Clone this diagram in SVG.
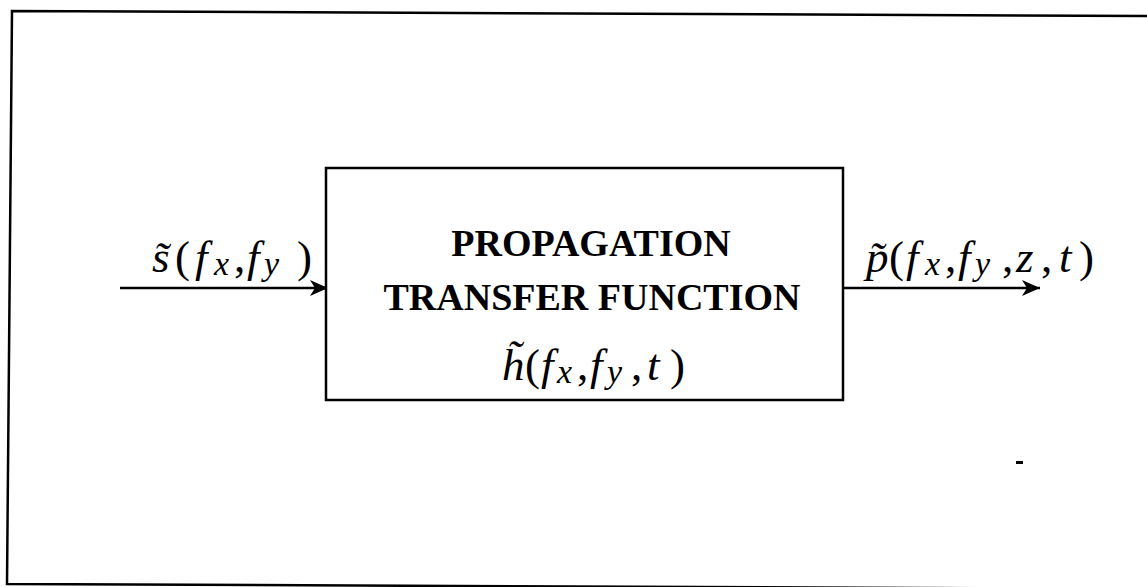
<svg xmlns="http://www.w3.org/2000/svg" width="1147" height="587" viewBox="0 0 1147 587">
<style>
.frame{fill:none;stroke:#000;stroke-width:2.5}
.box{fill:#fff;stroke:#000;stroke-width:2.5}
.conn{fill:none;stroke:#000;stroke-width:2.5}
.title{font-family:"Liberation Serif","Times New Roman",serif;font-weight:bold;font-size:38px;fill:#000}
.math{font-family:"Liberation Serif","Times New Roman",serif;font-size:45px;fill:#000}
.it{font-style:italic}
.sub{font-style:italic;font-size:34px}
</style>
<defs>
<marker id="arr" viewBox="0 0 20 18" refX="19" refY="9" markerWidth="20" markerHeight="18" markerUnits="userSpaceOnUse" orient="auto">
<path d="M1,1 L19,9 L1,17 L6,9 Z" fill="#000"/>
</marker>
</defs>
<rect width="1147" height="587" fill="#fff"/>
<path class="frame" d="M1147,16 L12,11 L7,584 L1147,589"/>
<g id="connectors">
<line class="conn" x1="120" y1="288" x2="328" y2="288" marker-end="url(#arr)"/>
<line class="conn" x1="843" y1="288" x2="1040" y2="288" marker-end="url(#arr)"/>
</g>
<g id="node-transfer">
<rect class="box" x="326" y="168" width="517" height="232"/>
<text class="title" x="591" y="256" text-anchor="middle">PROPAGATION</text>
<text class="title" x="592" y="310" text-anchor="middle">TRANSFER FUNCTION</text>
<text class="math"><tspan class="it" x="502" y="380">h&#x303;</tspan><tspan x="525" y="380">(</tspan><tspan class="it" x="541" y="380">f</tspan><tspan class="sub" x="557" y="383">x</tspan><tspan x="577" y="380">,</tspan><tspan class="it" x="590" y="380">f</tspan><tspan class="sub" x="607" y="383">y</tspan><tspan x="631" y="380">,</tspan><tspan class="it" x="647" y="380">t</tspan><tspan x="670" y="380">)</tspan></text>
</g>
<g id="label-input">
<text class="math"><tspan class="it" x="152" y="272">s&#x303;</tspan><tspan x="175" y="272">(</tspan><tspan class="it" x="195" y="272">f</tspan><tspan class="sub" x="214" y="275">x</tspan><tspan x="234" y="272">,</tspan><tspan class="it" x="247" y="272">f</tspan><tspan class="sub" x="264" y="275">y</tspan><tspan x="297" y="272">)</tspan></text>
</g>
<g id="label-output">
<text class="math"><tspan class="it" x="866" y="272">p&#x303;</tspan><tspan x="889" y="272">(</tspan><tspan class="it" x="906" y="272">f</tspan><tspan class="sub" x="925" y="275">x</tspan><tspan x="945" y="272">,</tspan><tspan class="it" x="958" y="272">f</tspan><tspan class="sub" x="975" y="275">y</tspan><tspan x="1002" y="272">,</tspan><tspan class="it" x="1016" y="272">z</tspan><tspan x="1041" y="272">,</tspan><tspan class="it" x="1059" y="272">t</tspan><tspan x="1079" y="272">)</tspan></text>
</g>
<rect x="1016" y="461" width="7" height="3" fill="#000"/>
</svg>
